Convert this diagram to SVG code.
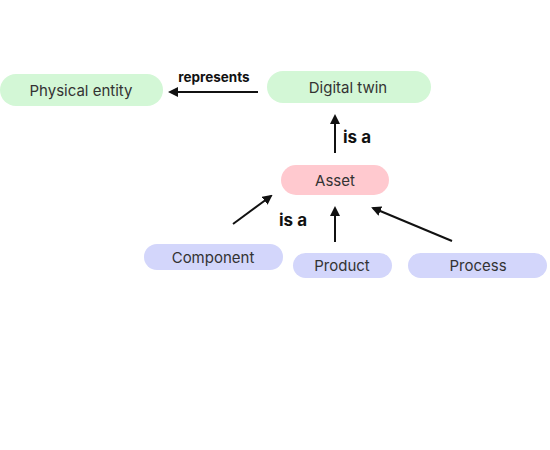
<svg xmlns="http://www.w3.org/2000/svg" width="550" height="450" viewBox="0 0 550 450">
<style>
.lbl{font-family:Inter,"Open Sans","Liberation Sans",sans-serif;font-size:15px;fill:#333;text-anchor:middle;dominant-baseline:central}
.el{font-family:Inter,"Open Sans","Liberation Sans",sans-serif;font-weight:bold;fill:#111;dominant-baseline:central}
.g{fill:#d3f7d6}
.r{fill:#ffc9cf}
.b{fill:#d3d6fb}
.c{stroke:#111;stroke-width:2;fill:none;marker-end:url(#ah)}
</style>
<defs>
<marker id="ah" viewBox="0 0 10 10" refX="8" refY="5" markerWidth="5" markerHeight="5" orient="auto">
<path d="M0,0 L10,5 L0,10 z" fill="#111"/>
</marker>
</defs>
<rect width="550" height="450" fill="#fff"/>
<g id="physical-entity"><rect class="g" x="0" y="74" width="163" height="32" rx="16"/><text class="lbl" x="81" y="90">Physical entity</text></g>
<g id="digital-twin"><rect class="g" x="267" y="71" width="164" height="32" rx="16"/><text class="lbl" x="348" y="87">Digital twin</text></g>
<g id="asset"><rect class="r" x="281" y="165" width="108" height="30" rx="15"/><text class="lbl" x="335" y="180">Asset</text></g>
<g id="component"><rect class="b" x="144" y="244" width="139" height="26" rx="13"/><text class="lbl" x="213" y="257">Component</text></g>
<g id="product"><rect class="b" x="293" y="253" width="99" height="25" rx="12.5"/><text class="lbl" x="342" y="265.5">Product</text></g>
<g id="process"><rect class="b" x="408" y="253" width="139" height="25" rx="12.5"/><text class="lbl" x="478" y="265.5">Process</text></g>
<g id="connectors">
<line class="c" x1="258" y1="92" x2="170" y2="92"/>
<line class="c" x1="335" y1="153" x2="335" y2="116"/>
<line class="c" x1="233" y1="224" x2="271" y2="196"/>
<line class="c" x1="335" y1="242" x2="335" y2="208"/>
<line class="c" x1="452" y1="241" x2="373" y2="208"/>
<text class="el" x="214" y="77" font-size="13.5" text-anchor="middle">represents</text>
<text class="el" x="343" y="137" font-size="17">is a</text>
<text class="el" x="279" y="220" font-size="17">is a</text>
</g>
</svg>
